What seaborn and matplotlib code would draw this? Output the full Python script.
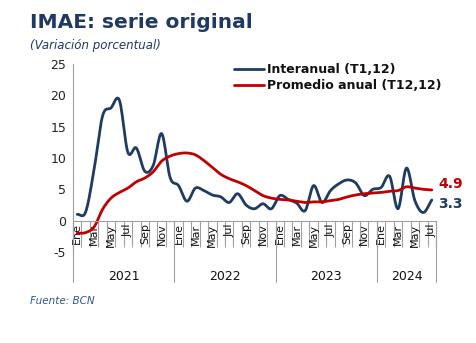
import numpy as np
import pandas as pd
import matplotlib
matplotlib.use("Agg")
import matplotlib.pyplot as plt
import seaborn as sns

months = ["Ene", "Feb", "Mar", "Abr", "May", "Jun", "Jul", "Ago", "Sep", "Oct", "Nov", "Dic"]
years = ["2021", "2022", "2023", "2024"]
n_months = 43  # Ene 2021 .. Jul 2024

interanual = [1.0, 1.4, 8.2, 16.7, 18.0, 19.2, 10.9, 11.6, 7.9, 8.8, 13.9, 6.9,
              5.6, 3.1, 5.2, 4.8, 4.1, 3.8, 2.9, 4.3, 2.5, 1.9, 2.7, 1.9,
              4.0, 3.4, 2.8, 1.6, 5.6, 2.9, 4.8, 5.9, 6.5, 6.0, 4.0, 5.0,
              5.3, 7.1, 1.9, 8.4, 3.2, 1.3, 3.3]
promedio = [-2.0, -1.9, -1.0, 1.8, 3.6, 4.5, 5.2, 6.2, 6.8, 7.8, 9.5, 10.3,
            10.7, 10.8, 10.5, 9.6, 8.5, 7.4, 6.7, 6.2, 5.6, 4.8, 4.0, 3.6,
            3.4, 3.3, 3.1, 2.9, 3.0, 3.0, 3.2, 3.4, 3.8, 4.1, 4.3, 4.4,
            4.5, 4.7, 4.8, 5.4, 5.2, 5.0, 4.9]
labels_series = ["Interanual (T1,12)", "Promedio anual (T12,12)"]

BLUE = "#1F3B63"
RED = "#C00000"
TITLE = "#1F3864"


def smooth(y, n=12):
    """Catmull-Rom style smoothing (like Excel 'smoothed line') for drawing."""
    y = np.asarray(y, float)
    x = np.arange(len(y)) + 0.5
    P = np.concatenate([[2 * y[0] - y[1]], y, [2 * y[-1] - y[-2]]])
    xs, ys = [], []
    for i in range(len(y) - 1):
        p0, p1, p2, p3 = P[i], P[i + 1], P[i + 2], P[i + 3]
        t = np.linspace(0, 1, n, endpoint=False)
        yy = 0.5 * ((2 * p1) + (-p0 + p2) * t + (2 * p0 - 5 * p1 + 4 * p2 - p3) * t ** 2
                    + (-p0 + 3 * p1 - 3 * p2 + p3) * t ** 3)
        xs.append(x[i] + t)
        ys.append(yy)
    xs.append([x[-1]])
    ys.append([y[-1]])
    return np.concatenate(xs), np.concatenate(ys)


sns.set_theme(style="white")
plt.rcParams["font.family"] = ["DejaVu Sans"]

fig = plt.figure(figsize=(4.77, 3.43), dpi=100)
ax = fig.add_axes([73 / 477, 1 - 252 / 343, 363 / 477, 188 / 343])

frames = []
for name, vals in zip(labels_series, [interanual, promedio]):
    xs, ys = smooth(vals)
    frames.append(pd.DataFrame({"x": xs, "y": ys, "serie": name}))
df = pd.concat(frames, ignore_index=True)

sns.lineplot(data=df, x="x", y="y", hue="serie", palette=[BLUE, RED],
             linewidth=2.0, ax=ax, sort=False, estimator=None)

ax.set_xlim(0, n_months)
ax.set_ylim(-5, 25)
ax.set_yticks([-5, 0, 5, 10, 15, 20, 25])
ax.set_yticklabels(["-5", "0", "5", "10", "15", "20", "25"])
ax.tick_params(axis="y", length=0, labelsize=9, pad=5, colors="#222222")
ax.set_xlabel("")
ax.set_ylabel("")

for s in ["top", "right"]:
    ax.spines[s].set_visible(False)
ax.spines["left"].set_color("#A0A0A0")
ax.spines["left"].set_linewidth(0.8)
ax.spines["bottom"].set_position(("data", 0))
ax.spines["bottom"].set_color("#A0A0A0")
ax.spines["bottom"].set_linewidth(0.8)

# category boundaries as major ticks, month labels as minor ticks
ax.set_xticks(np.arange(0, n_months + 1))
ax.set_xticklabels([])
ax.tick_params(axis="x", which="major", direction="out", length=19, width=0.8,
               color="#A0A0A0", bottom=True)
minor_pos = [i + 0.5 for i in range(0, n_months, 2)]
minor_lab = [months[i % 12] for i in range(0, n_months, 2)]
ax.set_xticks(minor_pos, minor=True)
ax.set_xticklabels(minor_lab, minor=True, rotation=90, fontsize=8, color="#111111")
ax.tick_params(axis="x", which="minor", length=0, pad=2, bottom=True)

# year separators and labels
trans = ax.get_xaxis_transform()
for b in [0, 12, 24, 36, 43]:
    ax.plot([b, b], [5 / 30, -0.16], transform=trans, color="#A0A0A0",
            linewidth=0.8, clip_on=False)
for yr, c in zip(years, [6, 18, 30, 39.5]):
    ax.text(c, -0.128, yr, transform=trans, ha="center", va="center",
            fontsize=9, color="#111111")

# end labels
ax.text(n_months + 0.3, promedio[-1] + 1.0, f"{promedio[-1]:.1f}", color=RED,
        fontsize=10, fontweight="bold", va="center", ha="left", clip_on=False)
ax.text(n_months + 0.3, interanual[-1] - 0.6, f"{interanual[-1]:.1f}", color=BLUE,
        fontsize=10, fontweight="bold", va="center", ha="left", clip_on=False)

leg = ax.legend(loc="upper left", bbox_to_anchor=(0.43, 1.03), frameon=False,
                fontsize=9, handlelength=2.4, handletextpad=0.2, labelspacing=0.25,
                borderaxespad=0)
for t in leg.get_texts():
    t.set_fontweight("bold")
    t.set_color("#111111")
for l in leg.get_lines():
    l.set_linewidth(2.0)

fig.text(30 / 477, 1 - 22 / 343, "IMAE: serie original", fontsize=14.5,
         fontweight="bold", color=TITLE, va="center", ha="left")
fig.text(30 / 477, 1 - 45 / 343, "(Variación porcentual)", fontsize=8.5,
         style="italic", color=TITLE, va="center", ha="left")
fig.text(30 / 477, 1 - 301 / 343, "Fuente: BCN", fontsize=7.5,
         style="italic", color="#2F5597", va="center", ha="left")

fig.savefig("out.png", dpi=100, facecolor="white")
